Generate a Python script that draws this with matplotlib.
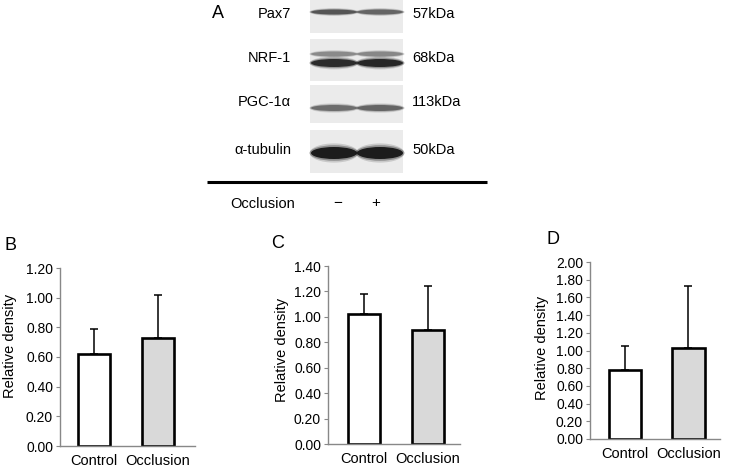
"""Western blot panel plus three relative-density bar charts."""
import numpy as np
import matplotlib

matplotlib.use("Agg")
import matplotlib.pyplot as plt  # noqa: E402
from matplotlib.patches import Ellipse, Rectangle  # noqa: E402

plt.rcParams["font.family"] = ["Liberation Sans", "DejaVu Sans"]

# blot rows (label, marker size, band darkness per lane)
BLOT_PROTEINS = ["Pax7", "NRF-1", "PGC-1\u03b1", "\u03b1-tubulin"]
BLOT_KDA = ["57kDa", "68kDa", "113kDa", "50kDa"]
BLOT_LANES = ["\u2212", "+"]
BAND_DARKNESS = [[0.72, 0.66], [0.90, 0.92], [0.62, 0.66], [0.97, 0.97]]

# densitometry (mean and upper SD)
GROUPS = ["Control", "Occlusion"]
PAX7_MEAN = [0.62, 0.73]
PAX7_SD = [0.17, 0.29]
NRF1_MEAN = [1.02, 0.90]
NRF1_SD = [0.16, 0.34]
PGC_MEAN = [0.78, 1.03]
PGC_SD = [0.27, 0.70]

PANELS = [
    ("B", PAX7_MEAN, PAX7_SD, 1.2, 0.2),
    ("C", NRF1_MEAN, NRF1_SD, 1.4, 0.2),
    ("D", PGC_MEAN, PGC_SD, 2.0, 0.2),
]

W, H = 729, 470
fig = plt.figure(figsize=(W / 100, H / 100), dpi=100)

# ---- panel A: blot drawn in pixel coordinates ----
ax0 = fig.add_axes([0, 0, 1, 1])
ax0.set_xlim(0, W)
ax0.set_ylim(H, 0)
ax0.axis("off")

boxes = [(0, 33), (39, 81), (85, 123), (130, 173)]
band_rows = [[(12, 5)], [(54, 5), (63, 8)], [(108, 6)], [(153, 12)]]
lane_x = [334, 380]
ax0.text(212, 14, "A", fontsize=13, va="center", ha="left")
for i, name in enumerate(BLOT_PROTEINS):
    y0, y1 = boxes[i]
    ax0.add_patch(Rectangle((310, y0), 93, y1 - y0, facecolor="#ebebeb", edgecolor="none"))
    for j, (yc, hh) in enumerate(band_rows[i]):
        scale = 0.55 if (i == 1 and j == 0) else 1.0
        for k, x in enumerate(lane_x):
            d = BAND_DARKNESS[i][k] * scale
            for grow, a in [(1.6, 0.15), (1.3, 0.3), (1.0, 0.85)]:
                ax0.add_patch(Ellipse((x, yc), 46 * min(grow, 1.06), hh * grow,
                                      facecolor=str(1 - d), edgecolor="none", alpha=a))
    ymid = (y0 + y1) / 2 - 2
    ax0.text(291, ymid, name, fontsize=10.5, ha="right", va="center")
    ax0.text(412, ymid, BLOT_KDA[i], fontsize=10.5, ha="left", va="center")
ax0.plot([207, 487], [182, 182], color="black", lw=2.2, solid_capstyle="butt")
ax0.text(230, 204, "Occlusion", fontsize=10.5, ha="left", va="center")
for x, s in zip([338, 376], BLOT_LANES):
    ax0.text(x, 203, s, fontsize=11, ha="center", va="center")

# ---- panels B-D: bar charts ----
axes_px = [(60, 195, 268, 446, 0.54), (328, 460, 266, 444, 0.57), (590, 720, 262, 439, 0.55)]
label_px = [(17, 346), (289, 350), (549, 348)]
letter_pos = [(5, 245), (271, 243), (546, 240)]
for (letter, mean, sd, ymax, step), (xl, xr, yt, yb, off), (lx, ly), (lbx, lby) in zip(
        PANELS, axes_px, letter_pos, label_px):
    ax = fig.add_axes([xl / W, (H - yb) / H, (xr - xl) / W, (yb - yt) / H])
    x = np.arange(len(GROUPS))
    ax.bar(x, mean, width=0.51, color=["white", "#d9d9d9"], edgecolor="black", linewidth=1.9, zorder=2)
    ax.errorbar(x, mean, yerr=[np.zeros(len(sd)), sd], fmt="none", ecolor="black",
                elinewidth=1.1, capsize=3, capthick=1.1, zorder=1)
    span = (xr - xl) / 63.5
    ax.set_xlim(-off, span - off)
    ax.set_ylim(0, ymax)
    ticks = np.arange(0, ymax + 1e-9, step)
    ax.set_yticks(ticks)
    ax.set_yticklabels([f"{t:.2f}" for t in ticks], fontsize=10)
    ax.set_xticks(x)
    ax.set_xticklabels(GROUPS, fontsize=10.5)
    ax.tick_params(axis="x", length=0, pad=6)
    ax.tick_params(axis="y", length=3, color="#888888", pad=2)
    for s in ["top", "right"]:
        ax.spines[s].set_visible(False)
    for s in ["left", "bottom"]:
        ax.spines[s].set_color("#888888")
        ax.spines[s].set_linewidth(1.0)
    ax.set_ylabel("Relative density", fontsize=10.5)
    ax.yaxis.set_label_coords((lbx - xl) / (xr - xl), (yb - lby) / (yb - yt))
    fig.text(lx / W, (H - ly) / H, letter, fontsize=13, ha="left", va="center")

fig.savefig("out.png", dpi=100)
